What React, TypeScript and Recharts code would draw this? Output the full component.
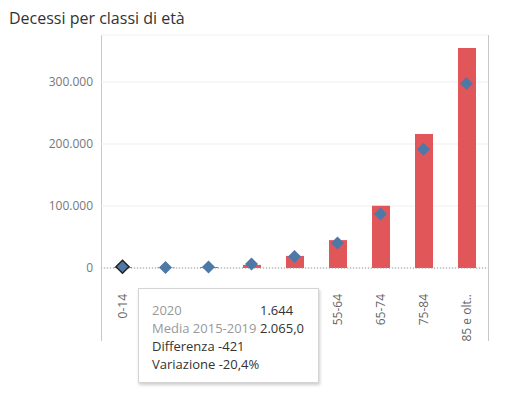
import { ComposedChart, Bar, Line, XAxis, YAxis, CartesianGrid, ReferenceLine } from 'recharts';

const classi = ['0-14', '15-24', '25-34', '35-44', '45-54', '55-64', '65-74', '75-84', '85 e oltre'];
const decessi2020 = [1644, 700, 1600, 5000, 19500, 45000, 100500, 216000, 355000];
const media20152019 = [2065, 1000, 1800, 6500, 18500, 40500, 87000, 191500, 297500];
const yTicks = [0, 100000, 200000, 300000];

const FONT = '"Open Sans", Arial, sans-serif';
const RED = '#e15759';
const BLUE = '#4e79a7';

const data = classi.map((c, i) => ({ classe: c, v2020: decessi2020[i], media: media20152019[i] }));

// thousands separator in Italian style
const fmtInt = (n: number) => String(Math.round(Math.abs(n))).replace(/\B(?=(\d{3})+(?!\d))/g, '.');
const fmtSigned = (n: number) => (n < 0 ? '-' : '') + fmtInt(n);

const Diamond = (props: any) => {
  const { cx, cy, index } = props;
  if (cx == null || cy == null) return null;
  const r = 6.5;
  const selected = index === 0;
  return (
    <polygon
      points={`${cx},${cy - r} ${cx + r},${cy} ${cx},${cy + r} ${cx - r},${cy}`}
      fill={BLUE}
      stroke={selected ? '#222' : 'none'}
      strokeWidth={selected ? 1.5 : 0}
    />
  );
};

const XTick = (props: any) => {
  const { x, y, payload } = props;
  const label = payload.value.length > 8 ? payload.value.slice(0, 8) + '..' : payload.value;
  return (
    <text
      x={0}
      y={0}
      transform={`translate(${x},${y + 18}) rotate(-90)`}
      textAnchor="end"
      dy="0.35em"
      fill="#666"
      fontSize={12}
      fontFamily={FONT}
    >
      {label}
    </text>
  );
};

export default function App() {
  const sel = data[0];
  const diff = sel.v2020 - sel.media;
  const variaz = (diff / sel.media) * 100;

  return (
    <div style={{ position: 'absolute', left: 0, top: 0, width: 513, height: 393, background: '#fff', fontFamily: FONT }}>
      <div style={{ position: 'absolute', left: 9, top: 7, fontSize: 16, color: '#333' }}>Decessi per classi di età</div>

      {/* pane borders */}
      <div style={{ position: 'absolute', left: 101, top: 35, width: 1, height: 306, background: '#c8c8c8' }} />
      <div style={{ position: 'absolute', left: 488, top: 35, width: 1, height: 306, background: '#c8c8c8' }} />

      <div style={{ position: 'absolute', left: 0, top: 0 }}>
        <ComposedChart width={513} height={393} data={data} margin={{ top: 35, right: 25, bottom: 0, left: 0 }}>
          <CartesianGrid vertical={false} stroke="#efefef" />
          <XAxis
            dataKey="classe"
            axisLine={false}
            tickLine={false}
            interval={0}
            height={125}
            tick={<XTick />}
          />
          <YAxis
            width={101}
            domain={[0, 375800]}
            ticks={yTicks}
            axisLine={false}
            tickLine={false}
            tickFormatter={fmtInt}
            tick={{ fill: '#777', fontSize: 12, fontFamily: FONT }}
          />
          <ReferenceLine y={0} stroke="#999" strokeDasharray="1 2" />
          <Bar dataKey="v2020" fill={RED} barSize={18} isAnimationActive={false} />
          <Line
            dataKey="media"
            stroke="none"
            dot={<Diamond />}
            activeDot={false}
            isAnimationActive={false}
          />
        </ComposedChart>
      </div>

      {/* tooltip for the selected class */}
      <div
        style={{
          position: 'absolute',
          left: 138,
          top: 288,
          width: 181,
          height: 95,
          background: '#fff',
          border: '1px solid #d4d4d4',
          boxShadow: '1px 2px 3px rgba(0,0,0,0.2)',
          boxSizing: 'border-box',
          fontSize: 13,
          lineHeight: '18px',
          padding: '12px 0 0 13px',
          color: '#333',
        }}
      >
        <div style={{ display: 'flex' }}>
          <span style={{ width: 108, color: '#999' }}>2020</span>
          <span>{fmtInt(sel.v2020)}</span>
        </div>
        <div style={{ display: 'flex' }}>
          <span style={{ width: 108, color: '#999' }}>Media 2015-2019</span>
          <span>{fmtInt(sel.media)},0</span>
        </div>
        <div>Differenza {fmtSigned(diff)}</div>
        <div>Variazione {variaz.toFixed(1).replace('.', ',')}%</div>
      </div>
    </div>
  );
}
